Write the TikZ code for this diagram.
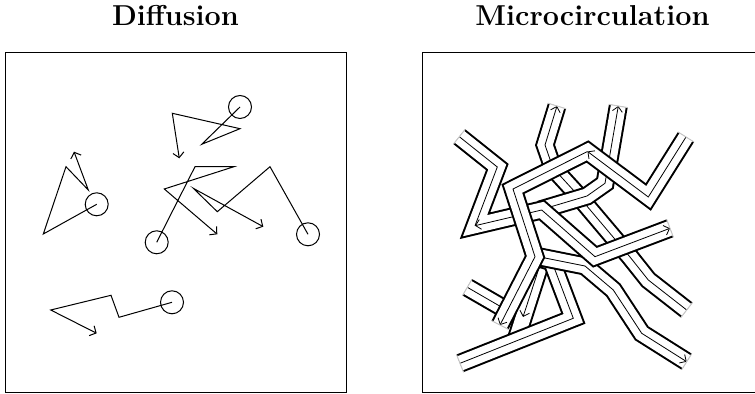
\documentclass[tikz,border=0pt]{standalone}
\usetikzlibrary{arrows.meta,calc}
\tikzset{
  title/.style={font=\Large\bfseries},
  particle/.style={draw,circle,line width=0.5pt,minimum size=11.5pt,inner sep=0pt},
  walk/.style={line width=0.5pt,-{Straight Barb[length=2.5pt,width=5.5pt]}},
  vessel/.style={line width=1pt,double=white,double distance=7.5pt,line join=miter,line cap=butt},
  flow/.style={line width=0.4pt,-{Straight Barb[length=2.5pt,width=5pt]}},
  noflow/.style={line width=0.4pt},
  opening/.style={line width=0.5pt,gray!45},
}
% light line across the open end of a vessel
\newcommand\openend[2]{\draw[opening] ($(#1)!4.75pt!90:(#2)$)--($(#1)!4.75pt!-90:(#2)$);}
\begin{document}
\begin{tikzpicture}[x=0.5pt,y=-0.5pt]
\useasboundingbox (0,0) rectangle (755,394);
\node[title] (tdiff) at (175.5,16) {Diffusion};
\node[title] (tmicro) at (592.5,16) {Microcirculation};
\draw[line width=0.5pt] (5,53) rectangle (346,393);
\draw[line width=0.5pt] (422,53) rectangle (763,393);

% random walks
\node[particle] (p1) at (240,107) {};
\node[particle] (p2) at (96.7,204.3) {};
\node[particle] (p3) at (156.7,242.3) {};
\node[particle] (p4) at (308,234.3) {};
\node[particle] (p5) at (172,302.3) {};
\draw[walk] (p1.center)--(201.7,144.3)--(240,128.7)--(172.3,113.3)--(179.3,158.3);
\draw[walk] (p2.center)--(43.3,234)--(66,166.7)--(88.3,190)--(74,151.7);
\draw[walk] (p3.center)--(195,166.7)--(234,166.7)--(164.3,189)--(217.3,234.3);
\draw[walk] (p4.center)--(270,166.7)--(217.3,211.7)--(193.3,188.3)--(263.3,226.7);
\draw[walk] (p5.center)--(119,317.3)--(111,295.3)--(50.7,310)--(96.7,333.3);

% vessels, lowest first
\draw[vessel] (467.3,287.3)--(516,315.5);
\draw[noflow] (467.3,287.3)--(516,315.5);
\openend{467.3,287.3}{516,315.5}

\draw[vessel] (517,337)--(541,262)--(537,257);
\draw[flow] (541,262)--(523,317);

\draw[vessel] (460,363.3)--(573.3,318.3)--(552,262)--(536,257);
\draw[noflow] (460,363.3)--(573.3,318.3)--(552,262)--(536,257);
\openend{460,363.3}{573.3,318.3}

\draw[vessel] (535,256)--(585,266)--(613.3,290)--(641.7,333.3)--(686.7,361.7);
\draw[flow] (535,256)--(585,266)--(613.3,290)--(641.7,333.3)--(686.7,361.7);
\openend{686.7,361.7}{641.7,333.3}

\draw[vessel] (557,106)--(545,145)--(553,168)--(575,192)--(630,257)--(648.3,280)--(686.7,310);
\draw[flow] (686.7,310)--(648.3,280)--(630,257)--(575,192)--(553,168)--(545,145)--(557,106);
\openend{557,106}{545,145}
\openend{686.7,310}{648.3,280}

\draw[vessel] (618.3,106)--(605,183.3)--(587,196)--(540,210);
\draw[flow] (540,210)--(587,196)--(605,183.3)--(618.3,106);
\openend{618.3,106}{605,183.3}

\draw[vessel] (459.3,136.7)--(497.3,167)--(475,225.7)--(541.7,210)--(595,256.7)--(670,228.3);
\draw[noflow] (459.3,136.7)--(497.3,167)--(475,225.7);
\draw[flow] (541.7,210)--(475,225.7);
\draw[flow] (541.7,210)--(595,256.7)--(670,228.3);
\openend{459.3,136.7}{497.3,167}
\openend{670,228.3}{595,256.7}

\draw[vessel] (686,137)--(648.3,197)--(587.5,151.5)--(513,189)--(535,256.7)--(500,325);
\draw[flow] (686,137)--(648.3,197)--(587.5,151.5);
\draw[flow] (587.5,151.5)--(513,189)--(535,256.7)--(500,325);
\openend{686,137}{648.3,197}
\openend{500,325}{535,256.7}
\end{tikzpicture}
\end{document}
